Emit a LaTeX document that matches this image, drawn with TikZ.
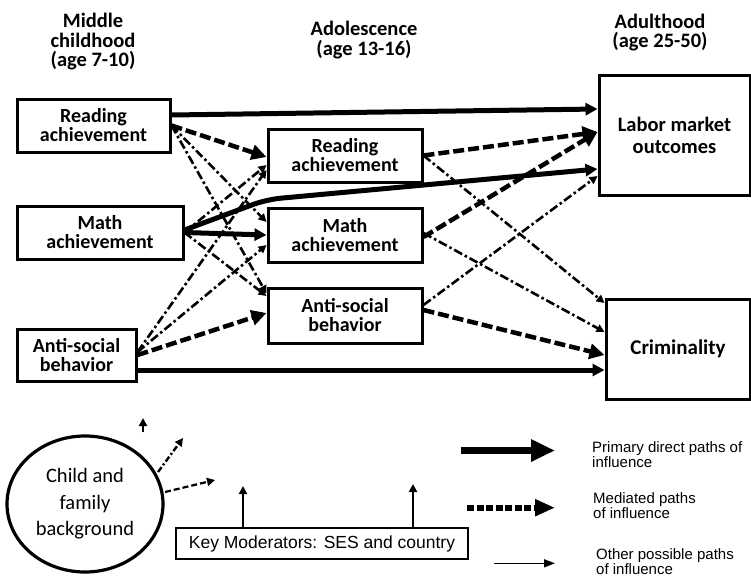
\documentclass[tikz,border=0pt]{standalone}
\usepackage{fontspec}
\setmainfont{Carlito}
\newfontfamily\arialf{Liberation Sans}
\usetikzlibrary{arrows.meta,shapes.geometric}
\begin{document}
\begin{tikzpicture}[x=1pt,y=-1pt,
  box/.style={draw, line width=3pt, align=center, inner sep=0pt, font=\bfseries\fontsize{20}{19}\selectfont},
  hdr/.style={align=center, inner sep=0pt},
  prim/.style={line width=5pt, -{Triangle[length=12pt,width=12pt]}},
  medi/.style={line width=4.5pt, dash pattern=on 11pt off 4pt, -{Triangle[length=15pt,width=15pt]}},
  othr/.style={line width=2.6pt, dash pattern=on 9pt off 3pt on 2.5pt off 3pt, -{Triangle[length=8pt,width=8pt]}},
  thinarr/.style={line width=2pt, -{Triangle[length=8pt,width=8pt]}},
  legtxt/.style={anchor=north west, align=left, inner sep=0pt, font=\arialf\fontsize{15}{15}\selectfont},
]
\useasboundingbox (0,0) rectangle (751,578);

% headings
\node[hdr, font=\bfseries\fontsize{20.5}{19.5}\selectfont] (h1) at (93,42) {Middle\\childhood\\(age 7-10)};
\node[hdr, font=\bfseries\fontsize{20.5}{19.5}\selectfont] (h2) at (364,40) {Adolescence\\(age 13-16)};
\node[hdr, font=\bfseries\fontsize{20.5}{19.5}\selectfont] (h3) at (660,32.5) {Adulthood\\(age 25-50)};

% boxes
\node[box, minimum width=153pt, minimum height=53pt] (lr) at (93.5,125.5) {Reading\\achievement};
\node[box, minimum width=166pt, minimum height=53pt] (lm) at (100,232.5) {Math\\achievement};
\node[box, minimum width=119pt, minimum height=52pt] (la) at (76.5,355) {Anti-social\\behavior};
\node[box, minimum width=154pt, minimum height=53pt] (mr) at (345,155.5) {Reading\\achievement};
\node[box, minimum width=154pt, minimum height=54pt] (mm) at (345,235) {Math\\achievement};
\node[box, minimum width=154pt, minimum height=55pt] (ma) at (345,315.5) {Anti-social\\behavior};
\node[box, minimum width=151pt, minimum height=120pt, font=\bfseries\fontsize{20.5}{22}\selectfont] (lab) at (674.5,135) {Labor market\\outcomes};
\node[box, minimum width=144pt, minimum height=100pt, font=\bfseries\fontsize{21}{22}\selectfont] (cri) at (678,349) {Criminality};

% primary direct paths
\draw[prim] ([yshift=10.5pt]lr.east) -- ([yshift=26pt]lab.west);
\draw[prim, rounded corners=14pt] ([yshift=2.5pt]lm.east) -- ([yshift=-16pt]mr.south west) -- ([yshift=-34pt]lab.west);
\draw[prim] (lm.east) -- (mm.west);
\draw[prim] ([yshift=-15pt]la.east) -- ([yshift=-21pt]cri.west);

% mediated paths
\draw[medi] (lr.east) -- ([yshift=-1.5pt]mr.west);
\draw[medi] (mr.east) -- ([yshift=3pt]lab.west);
\draw[medi] ([yshift=-2pt]mm.east) -- ([yshift=3pt]lab.west);
\draw[medi] (la.east) -- ([yshift=2.5pt]ma.west);
\draw[medi] ([yshift=5.5pt]ma.east) -- ([yshift=-6pt]cri.west);

% other possible paths
\draw[othr] (lr.east) -- ([yshift=13pt]mm.west);
\draw[othr] (lr.east) -- ([yshift=22pt]ma.west);
\draw[othr] (lm.east) -- ([yshift=-9.5pt]mr.west);
\draw[othr] (lm.east) -- ([yshift=19.5pt]ma.west);
\draw[othr] ([yshift=3pt]la.east) -- ([yshift=-14.5pt]mr.west);
\draw[othr] ([yshift=3pt]la.east) -- ([yshift=-10pt]mm.west);
\draw[othr] (mr.east) -- ([yshift=46pt]cri.west);
\draw[othr] ([yshift=2pt]mm.east) -- ([yshift=17pt]cri.west);
\draw[othr] ([yshift=10.5pt]ma.east) -- ([yshift=-41pt]lab.west);

% background ellipse
\node[draw, ellipse, line width=3.2pt, minimum width=156pt, minimum height=136pt, inner sep=0pt, align=center,
  font=\fontsize{20.5}{26.5}\selectfont] (bg) at (85,504) {Child and\\family\\background};
\draw[thinarr] ([shift={(58,-72)}]bg.center) -- ++(0,-14);
\draw[line width=2.4pt, dash pattern=on 6pt off 2.5pt on 2pt off 2.5pt, -{Triangle[length=8pt,width=8pt]}]
  ([shift={(73,-32)}]bg.center) -- ++(25,-34);
\draw[line width=2.2pt, dash pattern=on 6pt off 3pt, -{Triangle[length=8pt,width=8pt]}]
  ([shift={(80,-12)}]bg.center) -- ++(50,-12);

% key moderators
\node[draw, line width=2pt, minimum width=292pt, minimum height=31pt, inner sep=0pt,
  font=\arialf\fontsize{17.5}{20}\selectfont] (km) at (322,543.5) {Key Moderators: SES and country};
\draw[thinarr] ([xshift=-79pt]km.north) -- ++(0,-41);
\draw[thinarr] ([xshift=91pt]km.north) -- ++(0,-43);

% legend
\coordinate (k1a) at (461,450.5); \coordinate (k1b) at (555,450.5);
\coordinate (k2a) at (467,507.7); \coordinate (k2b) at (555,507.7);
\coordinate (k3a) at (494,563.3); \coordinate (k3b) at (555,563.3);
\draw[line width=7pt, -{Triangle[length=24pt,width=21pt]}] (k1a) -- (k1b);
\draw[line width=6pt, dash pattern=on 7pt off 2.5pt, -{Triangle[length=20pt,width=16pt]}] (k2a) -- (k2b);
\draw[line width=1.5pt, -{Triangle[length=11pt,width=8pt]}] (k3a) -- (k3b);
\node[legtxt] (t1) at (592,441) {Primary direct paths of\\influence};
\node[legtxt] (t2) at (593,492) {Mediated paths\\of influence};
\node[legtxt] (t3) at (596,548) {Other possible paths\\of influence};
\end{tikzpicture}
\end{document}
